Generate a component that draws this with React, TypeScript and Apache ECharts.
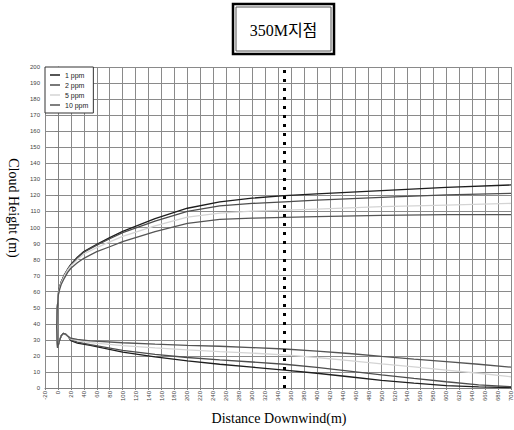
import React, { useEffect, useRef } from "react";
import * as echarts from "echarts";

const seriesNames = ["1 ppm", "2 ppm", "5 ppm", "10 ppm"];
const seriesColors = ["#1e1e1e", "#4d4d4d", "#d4d4d4", "#555555"];

// upper branch (cloud top)
const upperX = [-1.5, -1, 0, 1, 3, 5, 10, 15, 20, 30, 40, 60, 80, 100, 150, 200, 250, 300, 350, 400, 500, 600, 700];
const upper1 = [44, 50, 55, 60, 63.5, 66, 70.5, 74, 77, 81.5, 85, 89.5, 93.7, 97.6, 105.5, 112, 116, 118.3, 119.8, 121, 123, 125, 126.5];
const upper2 = [44, 50, 55, 60, 63.5, 66, 70.5, 74, 76.7, 81, 84.6, 89, 93, 96.8, 104, 110, 113.5, 115, 116, 117, 118.8, 120.3, 121.3];
const upper5 = [44, 50, 55, 59.5, 63, 65.5, 70, 73.5, 76, 80, 83.5, 87.5, 91, 94.5, 101, 106.5, 109, 110.2, 110.8, 111.5, 113, 114, 115];
const upper10 = [44, 50, 54.5, 59, 62, 64.5, 68.5, 72, 74.6, 78, 80.8, 85, 88, 91.2, 97.5, 102.6, 105, 105.8, 106.3, 106.8, 107.5, 108, 108];

// shared near-source part (release point dip)
const headX = [-2, -1.2, -0.5, 2, 5, 8, 12, 16];
const headY = [38, 30, 25, 29, 32.5, 34, 33.5, 32];

// lower branch (cloud bottom)
const lowerX = [20, 30, 50, 100, 150, 200, 250, 300, 350, 400, 450, 500, 550, 600, 650, 700];
const lower1 = [29.5, 28, 26.5, 22.3, 19.4, 16.9, 14.8, 13, 11.2, 9.2, 7, 4.8, 3, 1.5, 0.7, 0.3];
const lower2 = [30, 28.6, 27, 23.5, 21, 19, 17.5, 16.2, 14.8, 12.8, 10.5, 8.2, 6, 3.9, 2, 0.8];
const lower5 = [30.5, 29.6, 28.3, 26.4, 25, 23.8, 22.7, 21.7, 20.6, 19, 17, 15, 13.2, 11.2, 9.2, 7];
const lower10 = [31, 30.3, 29.3, 28.2, 27.3, 26.6, 26, 25.2, 24.3, 23, 21.5, 19.7, 18, 16.4, 14.8, 13];

const uppers = [upper1, upper2, upper5, upper10];
const lowers = [lower1, lower2, lower5, lower10];

const markX = 350;
const titleText = "350M지점";
const yTitle = "Cloud Height (m)";
const xTitle = "Distance Downwind(m)";

function buildPath(up: number[], low: number[]): number[][] {
  const pts: number[][] = [];
  for (let i = upperX.length - 1; i >= 0; i--) pts.push([upperX[i], up[i]]);
  headX.forEach((x, i) => pts.push([x, headY[i]]));
  lowerX.forEach((x, i) => pts.push([x, low[i]]));
  return pts;
}

export default function App() {
  const ref = useRef<HTMLDivElement>(null);
  useEffect(() => {
    document.body.style.margin = "0";
    const chart = echarts.init(ref.current!, null, { renderer: "svg" });
    const serif = "'Liberation Serif', 'Times New Roman', 'Noto Sans CJK KR', serif";
    const sans = "'Liberation Sans', Arial, sans-serif";
    const series: any[] = seriesNames.map((name, i) => ({
      name,
      type: "line",
      data: buildPath(uppers[i], lowers[i]),
      showSymbol: false,
      symbol: "none",
      lineStyle: { color: seriesColors[i], width: 1.3 },
      itemStyle: { color: seriesColors[i] },
      z: 3,
      markLine:
        i === 0
          ? {
              silent: true,
              symbol: "none",
              label: { show: false },
              lineStyle: { color: "#000", width: 3, type: [3, 6] },
              data: [{ xAxis: markX }],
            }
          : undefined,
    }));
    chart.setOption({
      animation: false,
      grid: { left: 45, right: 2, top: 67, bottom: 42 },
      xAxis: {
        type: "value",
        min: -20,
        max: 700,
        interval: 20,
        axisLine: { show: true, lineStyle: { color: "#808080" } },
        axisTick: { show: true, length: 2, lineStyle: { color: "#808080" } },
        axisLabel: { rotate: 90, fontSize: 6, color: "#444", fontFamily: sans, margin: 3, showMaxLabel: true, showMinLabel: true },
        splitLine: { show: true, lineStyle: { color: "#8a8a8a", width: 1 } },
      },
      yAxis: {
        type: "value",
        min: 0,
        max: 200,
        interval: 10,
        axisLine: { show: true, lineStyle: { color: "#808080" } },
        axisTick: { show: true, length: 3, lineStyle: { color: "#808080" } },
        axisLabel: { fontSize: 6, color: "#444", fontFamily: sans, margin: 5 },
        splitLine: { show: true, lineStyle: { color: "#8a8a8a", width: 1 } },
      },
      legend: {
        orient: "vertical",
        left: 45,
        top: 67,
        data: seriesNames,
        icon: "rect",
        itemWidth: 10,
        itemHeight: 1.5,
        itemGap: 2,
        padding: [4, 5, 4, 5],
        backgroundColor: "#fff",
        borderColor: "#333",
        borderWidth: 1,
        textStyle: { fontSize: 7, color: "#222", fontFamily: sans, lineHeight: 8 },
        z: 10,
      },
      graphic: [
        {
          type: "rect",
          shape: { x: 233, y: 4, width: 101, height: 50 },
          style: { fill: "#fff", stroke: "#000", lineWidth: 2.5 },
        },
        {
          type: "rect",
          shape: { x: 236, y: 7, width: 95, height: 44 },
          style: { fill: "#fff", stroke: "#555", lineWidth: 1 },
        },
        {
          type: "text",
          x: 283.5,
          y: 30,
          style: { text: titleText, fontSize: 16, fontFamily: serif, fill: "#000", align: "center", verticalAlign: "middle" },
        },
        {
          type: "text",
          x: 13,
          y: 208,
          rotation: -Math.PI / 2,
          style: { text: yTitle, fontSize: 14, fontFamily: serif, fill: "#000", align: "center", verticalAlign: "middle" },
        },
        {
          type: "text",
          x: 279,
          y: 418,
          style: { text: xTitle, fontSize: 14, fontFamily: serif, fill: "#000", align: "center", verticalAlign: "middle" },
        },
      ],
      series,
    });
    return () => chart.dispose();
  }, []);
  return <div ref={ref} style={{ width: 514, height: 430 }} />;
}
